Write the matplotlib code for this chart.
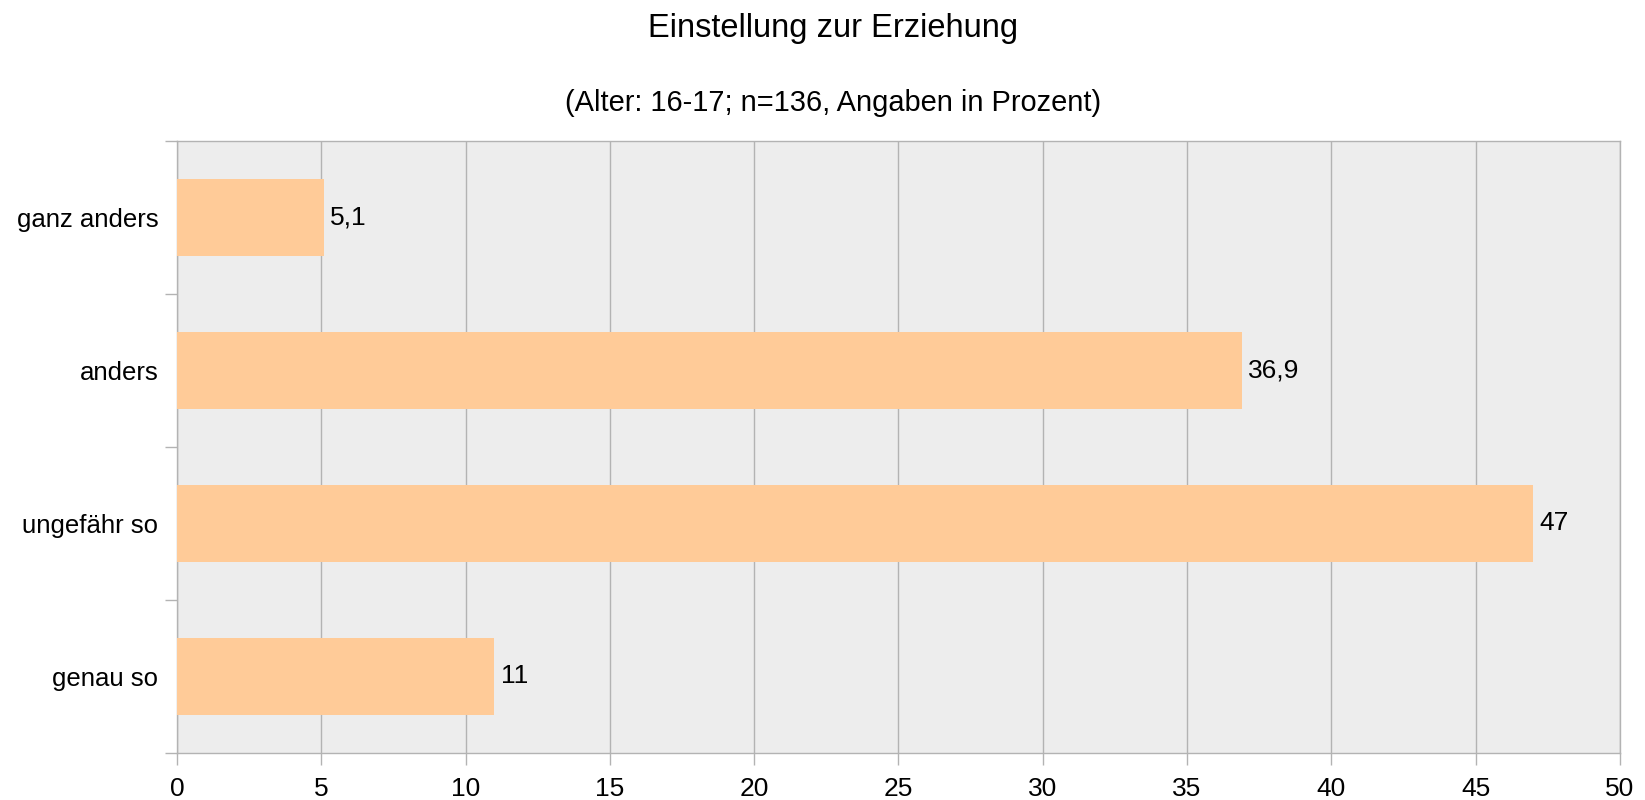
import matplotlib
matplotlib.use('Agg')
import matplotlib.pyplot as plt

# Daten (von unten nach oben)
kategorien = ['genau so', 'ungefähr so', 'anders', 'ganz anders']
werte = [11, 47, 36.9, 5.1]
x_ticks = [0, 5, 10, 15, 20, 25, 30, 35, 40, 45, 50]

plt.rcParams['font.family'] = ['Liberation Sans', 'DejaVu Sans']

fig = plt.figure(figsize=(16.45, 8), dpi=100)
ax = fig.add_axes([0.1076, 0.0588, 0.8772, 0.765])
ax.set_facecolor('#ededed')

pos = list(range(len(kategorien)))
ax.barh(pos, werte, height=0.5, color='#ffcb98', zorder=3)

for p, v in zip(pos, werte):
    txt = ('%g' % v).replace('.', ',')
    ax.annotate(txt, (v, p), xytext=(4.5, 0), textcoords='offset points',
                va='center', ha='left', fontsize=19, color='black')

ax.set_xlim(0, 50)
ax.set_ylim(-0.5, len(kategorien) - 0.5)
ax.set_xticks(x_ticks)
ax.set_xticklabels([str(t) for t in x_ticks], fontsize=19)
ax.tick_params(axis='x', length=8.5, width=1, color='#b3b3b3', pad=8.5)

# Kategorien als Beschriftung, Ticks an den Grenzen
ax.set_yticks(pos)
ax.set_yticklabels(kategorien, fontsize=18.5)
ax.tick_params(axis='y', which='major', length=0, pad=13.5)
ax.set_yticks([p - 0.5 for p in range(len(kategorien) + 1)], minor=True)
ax.tick_params(axis='y', which='minor', length=8.5, width=1, color='#b3b3b3')

ax.grid(axis='x', color='#b3b3b3', linewidth=1, zorder=1)
for s in ax.spines.values():
    s.set_color('#b3b3b3')
    s.set_linewidth(1)

fig.text(0.5067, 0.964, 'Einstellung zur Erziehung', ha='center', va='center', fontsize=23.5)
fig.text(0.5067, 0.871, '(Alter: 16-17; n=136, Angaben in Prozent)', ha='center', va='center', fontsize=20.9)

fig.savefig('out.png', dpi=100)
